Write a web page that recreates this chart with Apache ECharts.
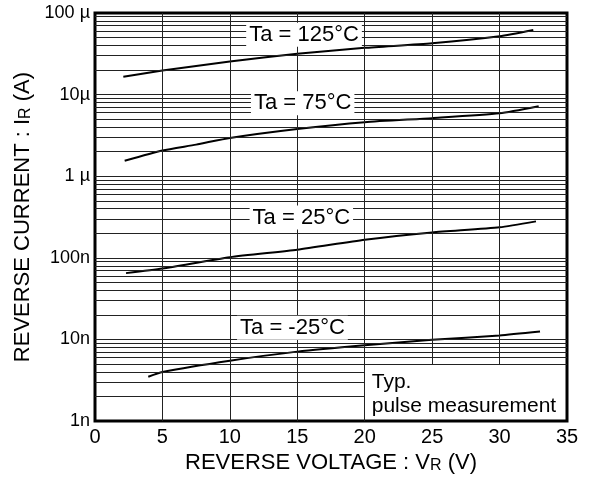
<!DOCTYPE html>
<html><head><meta charset="utf-8">
<script src="https://cdn.jsdelivr.net/npm/echarts@6/dist/echarts.min.js"></script>
<style>html,body{margin:0;padding:0;background:#fff}#c{width:589px;height:479px}</style>
</head><body><div id="c"></div>
<script>
// ---- data ----
const seriesNames = ['Ta = 125°C', 'Ta = 75°C', 'Ta = 25°C', 'Ta = -25°C'];
const curve125 = [[2.1,16.6e-6],[5,19.7e-6],[10,25.4e-6],[15,31.6e-6],[20,37.4e-6],[25,42.6e-6],[30,52e-6],[32.5,62e-6]];
const curve75  = [[2.2,1.55e-6],[5,2.07e-6],[7.5,2.44e-6],[10,2.95e-6],[15,3.8e-6],[20,4.6e-6],[25,5.15e-6],[30,5.9e-6],[32.9,7.2e-6]];
const curve25  = [[2.3,65e-9],[5,74e-9],[10,102e-9],[15,126e-9],[20,167e-9],[25,205e-9],[30,237e-9],[32.7,280e-9]];
const curveM25 = [[3.95,3.5e-9],[5,4.0e-9],[10,5.5e-9],[15,7.1e-9],[20,8.5e-9],[25,9.9e-9],[30,11.2e-9],[33.0,12.5e-9]];
const labelAt  = [[15.5,5.4e-5],[15.4,7.83e-6],[15.3,3.12e-7],[14.64,1.39e-8]];
const yTickLabels = ['1n','10n','100n','1 µ','10µ','100 µ'];
const xGridValues = [5,10,15,20,25,30];
const decades = [1e-9,1e-8,1e-7,1e-6,1e-5];
const minorMult = [1,2,3,4,5,6,7,8,9];
const xMin = 0, xMax = 35, yMin = 1e-9, yMax = 1e-4;
const boxX = 20, boxY = 5e-9;          // "Typ." note box corner (data units)
const boxText = 'Typ.\npulse measurement';

// ---- build gridlines ----
const FONT = '"Liberation Sans", Arial, sans-serif';
const gridLines = [];
xGridValues.forEach(v => {
  gridLines.push([{coord:[v, v > boxX ? boxY : yMin]}, {coord:[v, yMax]}]);
});
decades.forEach(d => minorMult.forEach(m => {
  const v = d * m;
  if (m === 1 && d === yMin) return;
  gridLines.push([{coord:[xMin, v]}, {coord:[v < boxY * 0.999 ? boxX : xMax, v]}]);
}));

const curves = [curve125, curve75, curve25, curveM25];
const curveSeries = curves.map((c, i) => ({
  type: 'line', name: seriesNames[i], data: c, z: 3, smooth: 0.2,
  showSymbol: false, symbol: 'none', silent: true,
  lineStyle: {color: '#000', width: 2},
  markPoint: {
    silent: true, symbol: 'rect', symbolSize: [1,1],
    itemStyle: {color: 'rgba(0,0,0,0)'},
    label: {show: true, position: 'inside', formatter: seriesNames[i],
      color: '#000', fontSize: 22, fontFamily: FONT,
      backgroundColor: '#fff', padding: [1,3]},
    data: [{coord: labelAt[i]}]
  }
}));

const chart = echarts.init(document.getElementById('c'));
chart.setOption({
  animation: false,
  grid: {left: 95, right: 22, top: 13, bottom: 57, show: true,
         borderColor: '#000', borderWidth: 3, backgroundColor: '#fff'},
  xAxis: {
    type: 'value', min: xMin, max: xMax, interval: 5,
    axisLine: {show: false}, axisTick: {show: false}, splitLine: {show: false},
    axisLabel: {color: '#000', fontSize: 20, fontFamily: FONT, margin: 6},
    name: '{a|REVERSE VOLTAGE : V}{b|R}{a| (V)}',
    nameLocation: 'middle', nameGap: 30,
    nameTextStyle: {rich: {
      a: {fontSize: 22, fontFamily: FONT, color: '#000', verticalAlign: 'bottom'},
      b: {fontSize: 16, fontFamily: FONT, color: '#000', verticalAlign: 'bottom'}}}
  },
  yAxis: {
    type: 'log', logBase: 10, min: yMin, max: yMax, splitNumber: 5,
    axisLine: {show: false}, axisTick: {show: false}, splitLine: {show: false},
    axisLabel: {color: '#000', fontSize: 18, fontFamily: FONT, margin: 5,
      formatter: v => yTickLabels[Math.round(Math.log10(v)) + 9]},
    name: '{a|REVERSE CURRENT : I}{b|R}{a| (A)}',
    nameLocation: 'middle', nameGap: 57,
    nameTextStyle: {rich: {
      a: {fontSize: 22, fontFamily: FONT, color: '#000', verticalAlign: 'bottom'},
      b: {fontSize: 16, fontFamily: FONT, color: '#000', verticalAlign: 'bottom'}}}
  },
  series: [
    {
      type: 'line', data: [], z: 1, silent: true,
      markLine: {silent: true, symbol: ['none','none'], label: {show: false},
        lineStyle: {color: '#222', width: 1, type: 'solid'},
        emphasis: {disabled: true}, data: gridLines},
      markArea: {silent: true, itemStyle: {color: 'rgba(0,0,0,0)'},
        label: {show: true, position: 'insideTopLeft', formatter: boxText,
          color: '#000', fontSize: 21, fontFamily: FONT, lineHeight: 24,
          padding: [1,0,0,2]},
        data: [[{coord: [boxX, yMin]}, {coord: [xMax, boxY]}]]}
    },
    ...curveSeries
  ]
});
</script></body></html>
